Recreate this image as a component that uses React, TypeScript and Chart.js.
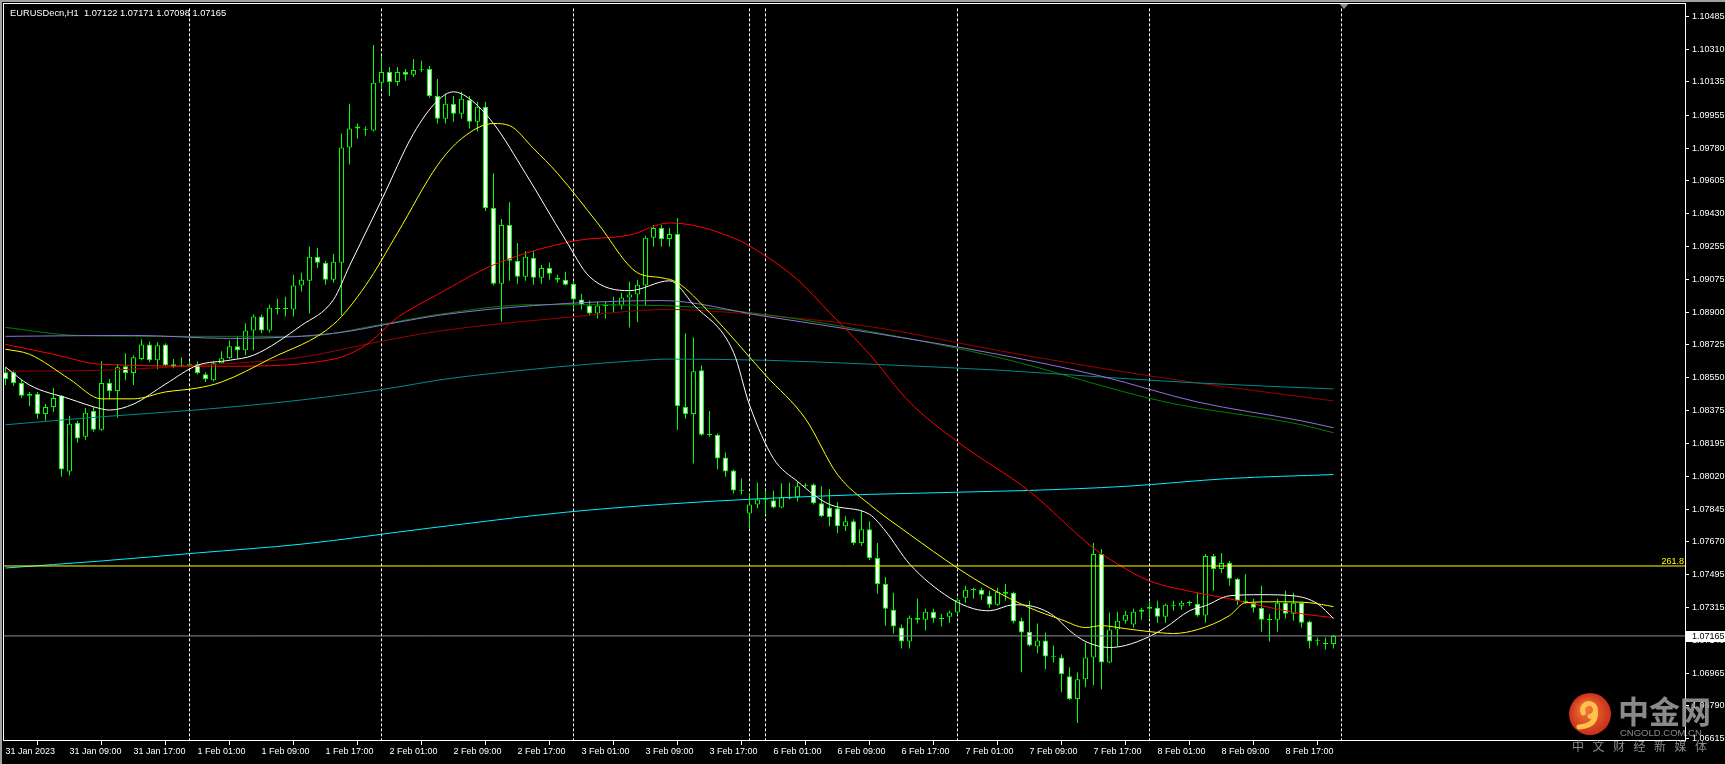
import React, { useEffect, useRef } from "react";
import { Chart, registerables } from "chart.js";
Chart.register(...registerables);

const titleText = "EURUSDecn,H1  1.07122 1.07171 1.07098 1.07165";

const xTickIndex = [0, 8, 16, 24, 32, 40, 48, 56, 64, 72, 80, 88, 96, 104, 112, 120, 128, 136, 144, 152, 160];
const xTickLabels = [
  "31 Jan 2023", "31 Jan 09:00", "31 Jan 17:00", "1 Feb 01:00", "1 Feb 09:00", "1 Feb 17:00",
  "2 Feb 01:00", "2 Feb 09:00", "2 Feb 17:00", "3 Feb 01:00", "3 Feb 09:00", "3 Feb 17:00",
  "6 Feb 01:00", "6 Feb 09:00", "6 Feb 17:00", "7 Feb 01:00", "7 Feb 09:00", "7 Feb 17:00",
  "8 Feb 01:00", "8 Feb 09:00", "8 Feb 17:00",
];
const yTickValues = [
  1.10485, 1.1031, 1.10135, 1.09955, 1.0978, 1.09605, 1.0943, 1.09255, 1.09075, 1.089, 1.08725,
  1.0855, 1.08375, 1.08195, 1.0802, 1.07845, 1.0767, 1.07495, 1.07315, 1.0714, 1.06965, 1.0679, 1.06615,
];
const daySeparators = [23, 47, 71, 93, 95, 119, 143, 167];

const open = [
  1.08579, 1.08579, 1.08521, 1.08452, 1.08462, 1.08355, 1.08392, 1.08452, 1.08046, 1.08308,
  1.08233, 1.08371, 1.0827, 1.08521, 1.08478, 1.08611, 1.08574, 1.08649, 1.08728, 1.08643,
  1.08728, 1.08621, 1.08616, 1.08611, 1.08621, 1.08568, 1.08536, 1.08627, 1.08654, 1.08718,
  1.08696, 1.08803, 1.08878, 1.08803, 1.08922, 1.0892, 1.08915, 1.09043, 1.09069, 1.09198,
  1.09165, 1.09075, 1.09165, 1.09784, 1.09885, 1.0988, 1.09875, 1.1013, 1.10188, 1.10135,
  1.10188, 1.10173, 1.10199, 1.10204, 1.1006, 1.09938, 1.10018, 1.09965, 1.1004, 1.09922,
  1.10002, 1.09459, 1.09053, 1.09368, 1.09176, 1.09091, 1.09192, 1.09085, 1.09138, 1.09085,
  1.09075, 1.09053, 1.08968, 1.08936, 1.08894, 1.08936, 1.08936, 1.08936, 1.08979, 1.08995,
  1.09043, 1.09299, 1.09352, 1.09293, 1.0932, 1.08392, 1.08355, 1.08589, 1.08244, 1.08244,
  1.08121, 1.08052, 1.07945, 1.07822, 1.0787, 1.07897, 1.07892, 1.07854, 1.07902, 1.07908,
  1.07972, 1.07977, 1.07876, 1.07854, 1.07849, 1.07753, 1.0778, 1.07663, 1.07737, 1.07583,
  1.07444, 1.07305, 1.0721, 1.07135, 1.07263, 1.07252, 1.07295, 1.07258, 1.07268, 1.0729,
  1.0737, 1.07413, 1.07413, 1.0738, 1.07332, 1.07391, 1.07396, 1.07247, 1.07188, 1.07108,
  1.07141, 1.07055, 1.0705, 1.06949, 1.06827, 1.06933, 1.0705, 1.07604, 1.07023, 1.07199,
  1.07247, 1.07226, 1.07295, 1.07311, 1.07316, 1.07268, 1.07327, 1.07327, 1.07343, 1.07338,
  1.07274, 1.07594, 1.07524, 1.07556, 1.07471, 1.07354, 1.07343, 1.07316, 1.07252, 1.07252,
  1.07343, 1.07284, 1.07343, 1.07242, 1.07141, 1.07124, 1.07122,
];
const high = [
  1.08606, 1.08589, 1.08536, 1.08473, 1.08473, 1.08408, 1.08494, 1.08457, 1.08345, 1.08318,
  1.08387, 1.08392, 1.08638, 1.08542, 1.08621, 1.08681, 1.0867, 1.08755, 1.08744, 1.08739,
  1.08734, 1.08649, 1.08659, 1.08638, 1.08638, 1.08579, 1.08638, 1.08691, 1.08749, 1.08771,
  1.08841, 1.08888, 1.08888, 1.08941, 1.08973, 1.08984, 1.09101, 1.09112, 1.09251, 1.09245,
  1.09176, 1.09214, 1.09858, 1.10018, 1.09912, 1.09896, 1.10333, 1.10274, 1.10215, 1.10215,
  1.10204, 1.10258, 1.10248, 1.1022, 1.10151, 1.10071, 1.1006, 1.10082, 1.1006, 1.10029,
  1.10029, 1.09645, 1.094, 1.0949, 1.09272, 1.09229, 1.09229, 1.09154, 1.09165, 1.09101,
  1.09117, 1.09064, 1.09, 1.08963, 1.08957, 1.08957, 1.08984, 1.09005, 1.09064, 1.09075,
  1.0931, 1.09368, 1.09368, 1.09352, 1.09405, 1.08787, 1.08765, 1.08616, 1.08371, 1.0825,
  1.08148, 1.08057, 1.08009, 1.07929, 1.07988, 1.07945, 1.07945, 1.07983, 1.07988, 1.07993,
  1.07983, 1.07983, 1.07967, 1.07951, 1.07881, 1.07806, 1.0779, 1.07838, 1.0778, 1.07663,
  1.07481, 1.07396, 1.07226, 1.07274, 1.07364, 1.07311, 1.07311, 1.07284, 1.073, 1.0737,
  1.07434, 1.07423, 1.07423, 1.07407, 1.07423, 1.07444, 1.07402, 1.07263, 1.07354, 1.07231,
  1.07183, 1.07114, 1.07066, 1.06997, 1.0697, 1.0713, 1.07663, 1.07631, 1.0729, 1.07295,
  1.073, 1.07311, 1.07316, 1.07348, 1.07354, 1.07338, 1.07354, 1.07354, 1.07354, 1.07396,
  1.07604, 1.07604, 1.0761, 1.07567, 1.07476, 1.07497, 1.07364, 1.07434, 1.07284, 1.07364,
  1.07407, 1.07396, 1.07348, 1.07247, 1.07156, 1.07156, 1.07171,
];
const low = [
  1.0851, 1.08505, 1.08441, 1.08398, 1.08329, 1.08318, 1.08366, 1.08019, 1.08025, 1.08201,
  1.08217, 1.0826, 1.08265, 1.08436, 1.08334, 1.08536, 1.0851, 1.08643, 1.08632, 1.08595,
  1.08611, 1.086, 1.08606, 1.08606, 1.08568, 1.08526, 1.08531, 1.08624, 1.0865, 1.08654,
  1.0867, 1.08696, 1.08787, 1.08792, 1.08888, 1.08878, 1.08878, 1.09011, 1.08894, 1.09138,
  1.09048, 1.09059, 1.08883, 1.09693, 1.09831, 1.09847, 1.09869, 1.10098, 1.1006, 1.10114,
  1.10141, 1.10162, 1.10188, 1.1005, 1.09912, 1.09912, 1.09922, 1.09938, 1.09885, 1.09869,
  1.09443, 1.09043, 1.08851, 1.09069, 1.09053, 1.09069, 1.09048, 1.09053, 1.09075, 1.09059,
  1.09043, 1.08915, 1.08915, 1.08883, 1.08867, 1.08867, 1.08899, 1.08915, 1.08819, 1.08846,
  1.08936, 1.09251, 1.09251, 1.09251, 1.0827, 1.08329, 1.08089, 1.08238, 1.08233, 1.08057,
  1.08019, 1.07929, 1.07924, 1.07743, 1.07849, 1.07817, 1.07849, 1.07849, 1.07897, 1.07886,
  1.07961, 1.0787, 1.07801, 1.07753, 1.07716, 1.07727, 1.07652, 1.07647, 1.07572, 1.07391,
  1.0722, 1.07178, 1.07098, 1.07098, 1.07231, 1.07194, 1.07236, 1.07215, 1.07236, 1.07279,
  1.07343, 1.07364, 1.07359, 1.07316, 1.07327, 1.07354, 1.07231, 1.0697, 1.07108, 1.07071,
  1.06986, 1.07023, 1.06863, 1.06821, 1.06698, 1.0689, 1.06901, 1.06879, 1.07018, 1.07108,
  1.07231, 1.0721, 1.07252, 1.07258, 1.07236, 1.07236, 1.073, 1.07305, 1.07327, 1.07268,
  1.07236, 1.07407, 1.07503, 1.07434, 1.07332, 1.07338, 1.0729, 1.07188, 1.07135, 1.07188,
  1.07258, 1.07247, 1.0721, 1.07098, 1.07114, 1.07092, 1.07098,
];
const close = [
  1.08542, 1.08521, 1.08452, 1.08462, 1.08355, 1.08392, 1.08441, 1.08057, 1.08302, 1.08223,
  1.08361, 1.0827, 1.08521, 1.08478, 1.08606, 1.08574, 1.08659, 1.08728, 1.08643, 1.08723,
  1.08616, 1.08606, 1.08614, 1.08621, 1.08574, 1.08542, 1.08627, 1.08654, 1.08718, 1.08696,
  1.08803, 1.08878, 1.08803, 1.08925, 1.08918, 1.08918, 1.09043, 1.09075, 1.09198, 1.09165,
  1.09075, 1.09171, 1.09784, 1.09885, 1.09896, 1.09878, 1.1013, 1.10188, 1.10135, 1.10188,
  1.10173, 1.10199, 1.10197, 1.1006, 1.09938, 1.10018, 1.09965, 1.10045, 1.09922, 1.10002,
  1.09459, 1.09053, 1.09368, 1.09176, 1.09091, 1.09198, 1.09085, 1.09138, 1.09107, 1.09075,
  1.09048, 1.08968, 1.08941, 1.08894, 1.08936, 1.08934, 1.08938, 1.08979, 1.08995, 1.09048,
  1.09299, 1.09352, 1.09293, 1.0932, 1.08398, 1.08355, 1.08584, 1.08244, 1.08242, 1.08116,
  1.08046, 1.07945, 1.07943, 1.0787, 1.07897, 1.07895, 1.07854, 1.07908, 1.07908, 1.07967,
  1.0797, 1.07876, 1.07806, 1.07801, 1.07753, 1.0778, 1.07663, 1.07737, 1.07583, 1.07444,
  1.07311, 1.07215, 1.07135, 1.07263, 1.07252, 1.07295, 1.07258, 1.07256, 1.0729, 1.07359,
  1.07413, 1.07411, 1.07386, 1.07332, 1.07402, 1.07402, 1.07242, 1.07183, 1.07114, 1.07141,
  1.07055, 1.07053, 1.0696, 1.06827, 1.06933, 1.0705, 1.07604, 1.07023, 1.07199, 1.07247,
  1.07279, 1.07295, 1.07305, 1.07322, 1.07268, 1.07332, 1.07332, 1.07343, 1.07341, 1.07274,
  1.07594, 1.07524, 1.07556, 1.07471, 1.07354, 1.07343, 1.07316, 1.07252, 1.0725, 1.07343,
  1.07284, 1.07343, 1.07236, 1.07135, 1.07139, 1.07122, 1.07165,
];

// Moving-average lines, read at sample bars
const maWhiteIdx = [0, 3, 8, 12, 13, 16, 20, 24, 28, 31, 37, 41, 43, 47, 51, 54, 56, 58, 61, 65, 70, 73, 78, 83, 86, 91, 93, 96, 99, 103, 108, 110, 113, 118, 121, 123, 126, 128, 131, 133, 135, 138, 140, 143, 145, 148, 150, 153, 157, 161, 164, 166];
const maWhite = [1.08606, 1.0851, 1.08436, 1.08382, 1.08376, 1.08408, 1.08515, 1.08616, 1.08643, 1.0867, 1.0883, 1.08968, 1.09149, 1.09501, 1.09858, 1.10034, 1.10082, 1.10045, 1.09912, 1.09645, 1.09288, 1.09091, 1.09016, 1.09069, 1.08941, 1.08686, 1.08403, 1.08116, 1.07993, 1.0787, 1.07817, 1.07727, 1.07551, 1.0737, 1.07311, 1.073, 1.07332, 1.07327, 1.07274, 1.07194, 1.07135, 1.07103, 1.07114, 1.07162, 1.0721, 1.073, 1.07327, 1.0738, 1.07386, 1.0738, 1.07338, 1.07258];
const maYellowIdx = [0, 3, 8, 12, 16, 20, 24, 27, 33, 41, 45, 49, 54, 57, 61, 63, 66, 69, 74, 79, 82, 84, 88, 95, 100, 104, 108, 113, 119, 123, 128, 132, 135, 137, 140, 143, 146, 149, 153, 155, 159, 163, 166];
const maYellow = [1.08702, 1.08675, 1.08542, 1.08436, 1.08436, 1.08473, 1.08494, 1.08526, 1.08649, 1.08835, 1.09043, 1.09325, 1.09688, 1.09831, 1.09912, 1.09901, 1.09778, 1.09645, 1.09379, 1.09112, 1.09085, 1.09059, 1.08899, 1.08563, 1.08329, 1.0803, 1.0787, 1.0771, 1.07529, 1.07423, 1.07316, 1.07252, 1.0721, 1.0722, 1.07204, 1.07188, 1.07178, 1.07199, 1.07274, 1.07343, 1.07348, 1.07343, 1.07322];
const maRedIdx = [0, 6, 12, 28, 41, 45, 49, 54, 61, 71, 78, 83, 91, 95, 99, 103, 108, 113, 119, 128, 136, 139, 143, 149, 153, 157, 162, 166];
const maRed = [1.08728, 1.08675, 1.08621, 1.08611, 1.08649, 1.08723, 1.08872, 1.08995, 1.09154, 1.09282, 1.09314, 1.09379, 1.09299, 1.09202, 1.09075, 1.08899, 1.08675, 1.08419, 1.08206, 1.0794, 1.07636, 1.07551, 1.0746, 1.07396, 1.07364, 1.07327, 1.07284, 1.07263];
const maMaroonIdx = [0, 12, 24, 37, 45, 54, 70, 83, 95, 108, 124, 137, 149, 166];
const maMaroon = [1.08584, 1.08589, 1.08616, 1.08659, 1.08728, 1.08798, 1.08872, 1.08915, 1.08883, 1.08824, 1.08696, 1.086, 1.08521, 1.08425];
const maPurpleIdx = [0, 16, 28, 41, 49, 54, 66, 82, 95, 108, 124, 137, 149, 162, 166];
const maPurple = [1.08771, 1.08776, 1.0876, 1.08787, 1.08846, 1.08883, 1.08936, 1.08963, 1.08878, 1.08792, 1.08675, 1.08557, 1.08419, 1.08318, 1.08281];
const maGreenIdx = [0, 9, 23, 37, 47, 54, 66, 82, 95, 108, 124, 145, 162, 166];
const maGreen = [1.08819, 1.08776, 1.08771, 1.08771, 1.08835, 1.08888, 1.08941, 1.08936, 1.08888, 1.08798, 1.08659, 1.08419, 1.08297, 1.08254];
const maTealIdx = [0, 12, 24, 37, 49, 54, 66, 78, 83, 95, 108, 124, 137, 149, 166];
const maTeal = [1.08297, 1.0834, 1.08377, 1.0843, 1.08499, 1.08536, 1.08595, 1.08638, 1.08649, 1.08643, 1.08622, 1.0859, 1.08553, 1.08521, 1.08489];
const maCyanIdx = [0, 12, 24, 37, 53, 70, 82, 95, 108, 128, 140, 153, 166];
const maCyan = [1.07529, 1.07567, 1.0761, 1.07657, 1.07743, 1.07828, 1.0787, 1.07902, 1.07924, 1.07945, 1.07967, 1.08009, 1.0803];

const fiboLevel = 1.0754;
const fiboLabel = "261.8";
const bidPrice = 1.07165;

const FONT = "'Liberation Sans', Arial, sans-serif";
const CJK = "'Noto Sans CJK SC', sans-serif";

const X_MIN = -0.1875;
const X_MAX = X_MIN + 1681 / 8;
const Y_MAX = 1.105292;
const Y_MIN = 1.066017;

const decorPlugin = {
  id: "decor",
  beforeDatasetsDraw(chart: any) {
    const { ctx, chartArea: a, scales } = chart;
    ctx.save();
    ctx.strokeStyle = "#ffffff";
    ctx.lineWidth = 1;
    ctx.setLineDash([3, 2]);
    for (const d of daySeparators) {
      const px = Math.floor(scales.x.getPixelForValue(d)) + 0.5;
      ctx.beginPath();
      ctx.moveTo(px, a.top);
      ctx.lineTo(px, a.bottom);
      ctx.stroke();
    }
    ctx.restore();
  },
  afterDraw(chart: any) {
    const { ctx, chartArea: a, scales } = chart;
    ctx.save();
    ctx.fillStyle = "#a0a0a0";
    ctx.fillRect(0, 0, 1725, 2);
    ctx.fillRect(0, 0, 2, 764);
    ctx.strokeStyle = "#ffffff";
    ctx.lineWidth = 1;
    ctx.strokeRect(3.5, 3.5, a.right - 3, a.bottom - 4);
    ctx.font = `9.3px ${FONT}`;
    ctx.fillStyle = "#ffffff";
    ctx.textBaseline = "middle";
    ctx.textAlign = "left";
    ctx.fillText(titleText, 10, 13);
    ctx.font = `9px ${FONT}`;
    const fy = scales.y.getPixelForValue(fiboLevel);
    ctx.fillStyle = "#ffff00";
    ctx.textAlign = "right";
    ctx.textBaseline = "alphabetic";
    ctx.fillText(fiboLabel, a.right - 1, fy - 2);
    const by = scales.y.getPixelForValue(bidPrice);
    ctx.fillStyle = "#ffffff";
    ctx.fillRect(a.right + 1, Math.round(by) - 5, 40, 11);
    ctx.fillStyle = "#000000";
    ctx.textAlign = "left";
    ctx.textBaseline = "middle";
    ctx.fillText(bidPrice.toFixed(5), a.right + 7, by + 0.5);
    ctx.fillStyle = "#8c8c8c";
    ctx.beginPath();
    ctx.moveTo(1339.5, 4);
    ctx.lineTo(1348.5, 4);
    ctx.lineTo(1344, 9);
    ctx.closePath();
    ctx.fill();
    const cx = 1590, cy = 714, r = 21;
    const g = ctx.createRadialGradient(cx - 5, cy - 6, 2, cx, cy, r);
    g.addColorStop(0, "#f2793a");
    g.addColorStop(1, "#c92f18");
    ctx.fillStyle = g;
    ctx.beginPath();
    ctx.arc(cx, cy, r, 0, Math.PI * 2);
    ctx.fill();
    ctx.strokeStyle = "#ffc24a";
    ctx.lineWidth = 5;
    ctx.lineCap = "round";
    ctx.beginPath();
    ctx.arc(cx - 1, cy - 4, 6.5, Math.PI * 0.85, Math.PI * 2.45);
    ctx.stroke();
    ctx.beginPath();
    ctx.moveTo(cx + 5.5, cy - 2);
    ctx.quadraticCurveTo(cx + 6, cy + 12, cx - 11, cy + 13);
    ctx.stroke();
    ctx.fillStyle = "rgba(150,150,150,0.92)";
    ctx.textAlign = "left";
    ctx.textBaseline = "alphabetic";
    ctx.font = `bold 31px ${CJK}`;
    ctx.fillText("中金网", 1618, 723);
    ctx.font = `9.5px ${FONT}`;
    ctx.fillText("CNGOLD.COM.CN", 1620, 736);
    ctx.font = `12px ${CJK}`;
    const sub = ["中", "文", "财", "经", "新", "媒", "体"];
    sub.forEach((ch, k) => ctx.fillText(ch, 1572 + k * 20.5, 751));
    ctx.restore();
  },
};

export default function App() {
  const ref = useRef<HTMLCanvasElement>(null);
  useEffect(() => {
    const canvas = ref.current!;
    const idx = open.map((_, i) => i);
    const wickData = idx.map((i) => ({ x: i, y: [low[i], high[i]] }));
    const bodyData = idx.map((i) => ({ x: i, y: [open[i], close[i]] }));
    const bodyFill = idx.map((i) => (close[i] < open[i] ? "#ffffff" : "#000000"));
    const ma = (ix: number[], v: number[], color: string, order: number) => ({
      type: "line",
      data: ix.map((x, k) => ({ x, y: v[k] })),
      borderColor: color,
      borderWidth: 1,
      pointRadius: 0,
      fill: false,
      cubicInterpolationMode: "monotone",
      order,
    });
    const hline = (v: number, color: string) => ({
      type: "line",
      data: [{ x: X_MIN, y: v }, { x: X_MAX, y: v }],
      borderColor: color,
      borderWidth: 1,
      pointRadius: 0,
      fill: false,
      order: 1,
    });
    const chart = new Chart(canvas, {
      type: "bar",
      data: {
        datasets: [
          hline(fiboLevel, "#ffff00"),
          hline(bidPrice, "#8c8c8c"),
          ma(maCyanIdx, maCyan, "#00f0ff", 5),
          ma(maTealIdx, maTeal, "#008b8b", 5),
          ma(maGreenIdx, maGreen, "#008000", 5),
          ma(maPurpleIdx, maPurple, "#9370db", 4),
          ma(maMaroonIdx, maMaroon, "#9a0000", 5),
          ma(maRedIdx, maRed, "#ff0000", 3),
          ma(maYellowIdx, maYellow, "#ffff00", 2),
          ma(maWhiteIdx, maWhite, "#ffffff", 2),
          {
            type: "bar",
            data: bodyData,
            backgroundColor: bodyFill,
            borderColor: "#00ff00",
            borderWidth: 1,
            borderSkipped: false,
            barThickness: 5,
            minBarLength: 1,
            grouped: false,
            inflateAmount: 0,
            order: 9,
          },
          {
            type: "bar",
            data: wickData,
            backgroundColor: "#00ff00",
            borderWidth: 0,
            barThickness: 1,
            grouped: false,
            inflateAmount: 0,
            order: 10,
          },
        ] as any,
      },
      options: {
        responsive: false,
        animation: false,
        devicePixelRatio: 1,
        events: [],
        layout: { padding: { left: 4, top: 4, right: 0, bottom: 0 } },
        plugins: { legend: { display: false }, tooltip: { enabled: false } },
        scales: {
          x: {
            type: "linear",
            min: X_MIN,
            max: X_MAX,
            offset: false,
            position: "bottom",
            afterFit: (s: any) => { s.height = 23; },
            afterBuildTicks: (s: any) => { s.ticks = xTickIndex.map((v) => ({ value: v })); },
            grid: { display: true, drawOnChartArea: false, drawTicks: true, tickLength: 4, tickColor: "#ffffff", color: "#ffffff" },
            border: { display: false },
            ticks: {
              autoSkip: false, maxRotation: 0, minRotation: 0, align: "start", padding: 1,
              color: "#ffffff", font: { family: FONT, size: 9 },
              callback: (_v: any, i: number) => xTickLabels[i] ?? "",
            },
          },
          y: {
            type: "linear",
            position: "right",
            min: Y_MIN,
            max: Y_MAX,
            afterFit: (s: any) => { s.width = 40; },
            afterBuildTicks: (s: any) => { s.ticks = yTickValues.map((v) => ({ value: v })); },
            grid: { display: true, drawOnChartArea: false, drawTicks: true, tickLength: 4, tickColor: "#ffffff", color: "#ffffff" },
            border: { display: false },
            ticks: {
              autoSkip: false, padding: 3, color: "#ffffff", font: { family: FONT, size: 9 },
              callback: (v: any) => Number(v).toFixed(5),
            },
          },
        },
      } as any,
      plugins: [decorPlugin],
    });
    return () => chart.destroy();
  }, []);
  return (
    <div style={{ position: "fixed", left: 0, top: 0, width: 1725, height: 764, background: "#000" }}>
      <canvas ref={ref} width={1725} height={764} style={{ display: "block", width: 1725, height: 764 }} />
    </div>
  );
}
